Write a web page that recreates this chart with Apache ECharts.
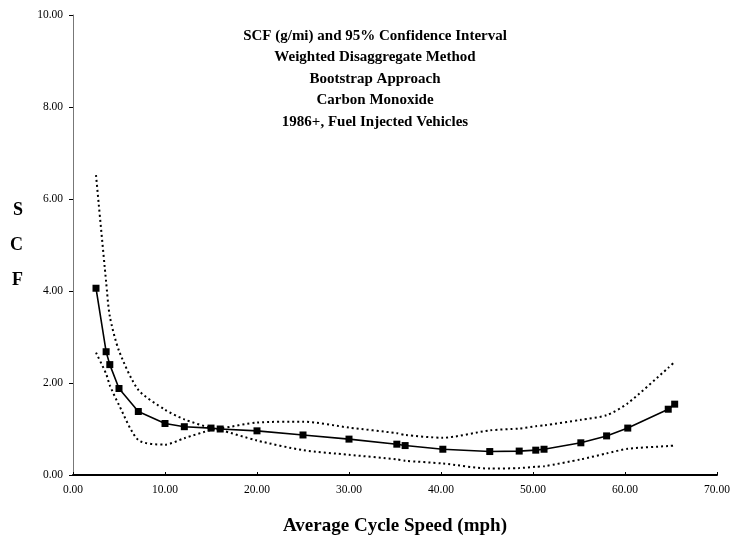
<!DOCTYPE html>
<html>
<head>
<meta charset="utf-8">
<script src="https://cdn.jsdelivr.net/npm/echarts@6/dist/echarts.min.js"></script>
<style>
html,body{margin:0;padding:0;background:#fff;}
#chart{width:739px;height:543px;}
</style>
</head>
<body>
<div id="chart"></div>
<script>
var titleLines = [
  'SCF (g/mi) and 95% Confidence Interval',
  'Weighted Disaggregate Method',
  'Bootstrap Approach',
  'Carbon Monoxide',
  '1986+, Fuel Injected Vehicles'
];
var speed = [2.5, 3.6, 4.0, 5.0, 7.1, 10.0, 12.1, 15.0, 16.0, 20.0, 25.0, 30.0, 35.2, 36.1, 40.2, 45.3, 48.5, 50.3, 51.2, 55.2, 58.0, 60.3, 64.7, 65.4];
var scf   = [4.06, 2.68, 2.40, 1.88, 1.38, 1.12, 1.05, 1.02, 1.00, 0.96, 0.87, 0.78, 0.67, 0.64, 0.56, 0.51, 0.52, 0.54, 0.56, 0.70, 0.85, 1.02, 1.43, 1.54];
var ciA   = [6.52, 4.20, 3.45, 2.70, 1.85, 1.42, 1.21, 1.02, 0.98, 0.75, 0.54, 0.44, 0.34, 0.31, 0.25, 0.14, 0.15, 0.18, 0.19, 0.34, 0.47, 0.57, 0.63, 0.64];
var ciB   = [2.66, 2.20, 1.95, 1.52, 0.76, 0.66, 0.80, 0.98, 1.01, 1.14, 1.16, 1.03, 0.91, 0.87, 0.81, 0.97, 1.01, 1.06, 1.08, 1.20, 1.30, 1.56, 2.33, 2.46];

function pairs(ys){ return speed.map(function(x,i){ return [x, ys[i]]; }); }
var serif = '"Liberation Serif", "DejaVu Serif", serif';

var chart = echarts.init(document.getElementById('chart'));
chart.setOption({
  animation: false,
  backgroundColor: '#ffffff',
  title: {
    text: titleLines.join('\n'),
    left: 370, top: 20, textAlign: 'center',
    textStyle: { fontFamily: serif, fontWeight: 'bold', fontSize: 15, lineHeight: 21.5, color: '#000' }
  },
  grid: { left: 73, right: 22, top: 15, bottom: 68, containLabel: false },
  xAxis: {
    type: 'value', min: 0, max: 70, interval: 10,
    name: 'Average Cycle Speed (mph)', nameLocation: 'middle', nameGap: 42,
    nameTextStyle: { fontFamily: serif, fontWeight: 'bold', fontSize: 19, color: '#000' },
    axisLine: { lineStyle: { color: '#000', width: 2 } },
    axisTick: { show: true, inside: true, length: 3, lineStyle: { color: '#000' } },
    axisLabel: { margin: 9, fontFamily: serif, fontSize: 11.5, color: '#000',
      formatter: function(v){ return v.toFixed(2); } },
    splitLine: { show: false }
  },
  yAxis: {
    type: 'value', min: 0, max: 10, interval: 2,
    name: 'S\nC\nF', nameLocation: 'middle', nameRotate: 0, nameGap: 50,
    nameTextStyle: { fontFamily: serif, fontWeight: 'bold', fontSize: 18, lineHeight: 35, color: '#000' },
    axisLine: { show: true, lineStyle: { color: '#777', width: 1 } },
    axisTick: { show: true, length: 4, lineStyle: { color: '#000' } },
    axisLabel: { margin: 10, fontFamily: serif, fontSize: 11.5, color: '#000',
      formatter: function(v){ return v.toFixed(2); } },
    splitLine: { show: false }
  },
  series: [
    { type: 'line', data: pairs(ciA), showSymbol: false, symbol: 'none', smooth: 0.25,
      lineStyle: { color: '#000', width: 2, type: [2, 3] } },
    { type: 'line', data: pairs(ciB), showSymbol: false, symbol: 'none', smooth: 0.25,
      lineStyle: { color: '#000', width: 2, type: [2, 3] } },
    { type: 'line', data: pairs(scf), symbol: 'rect', symbolSize: 7,
      itemStyle: { color: '#000' },
      lineStyle: { color: '#000', width: 1.6 } }
  ]
});
</script>
</body>
</html>
